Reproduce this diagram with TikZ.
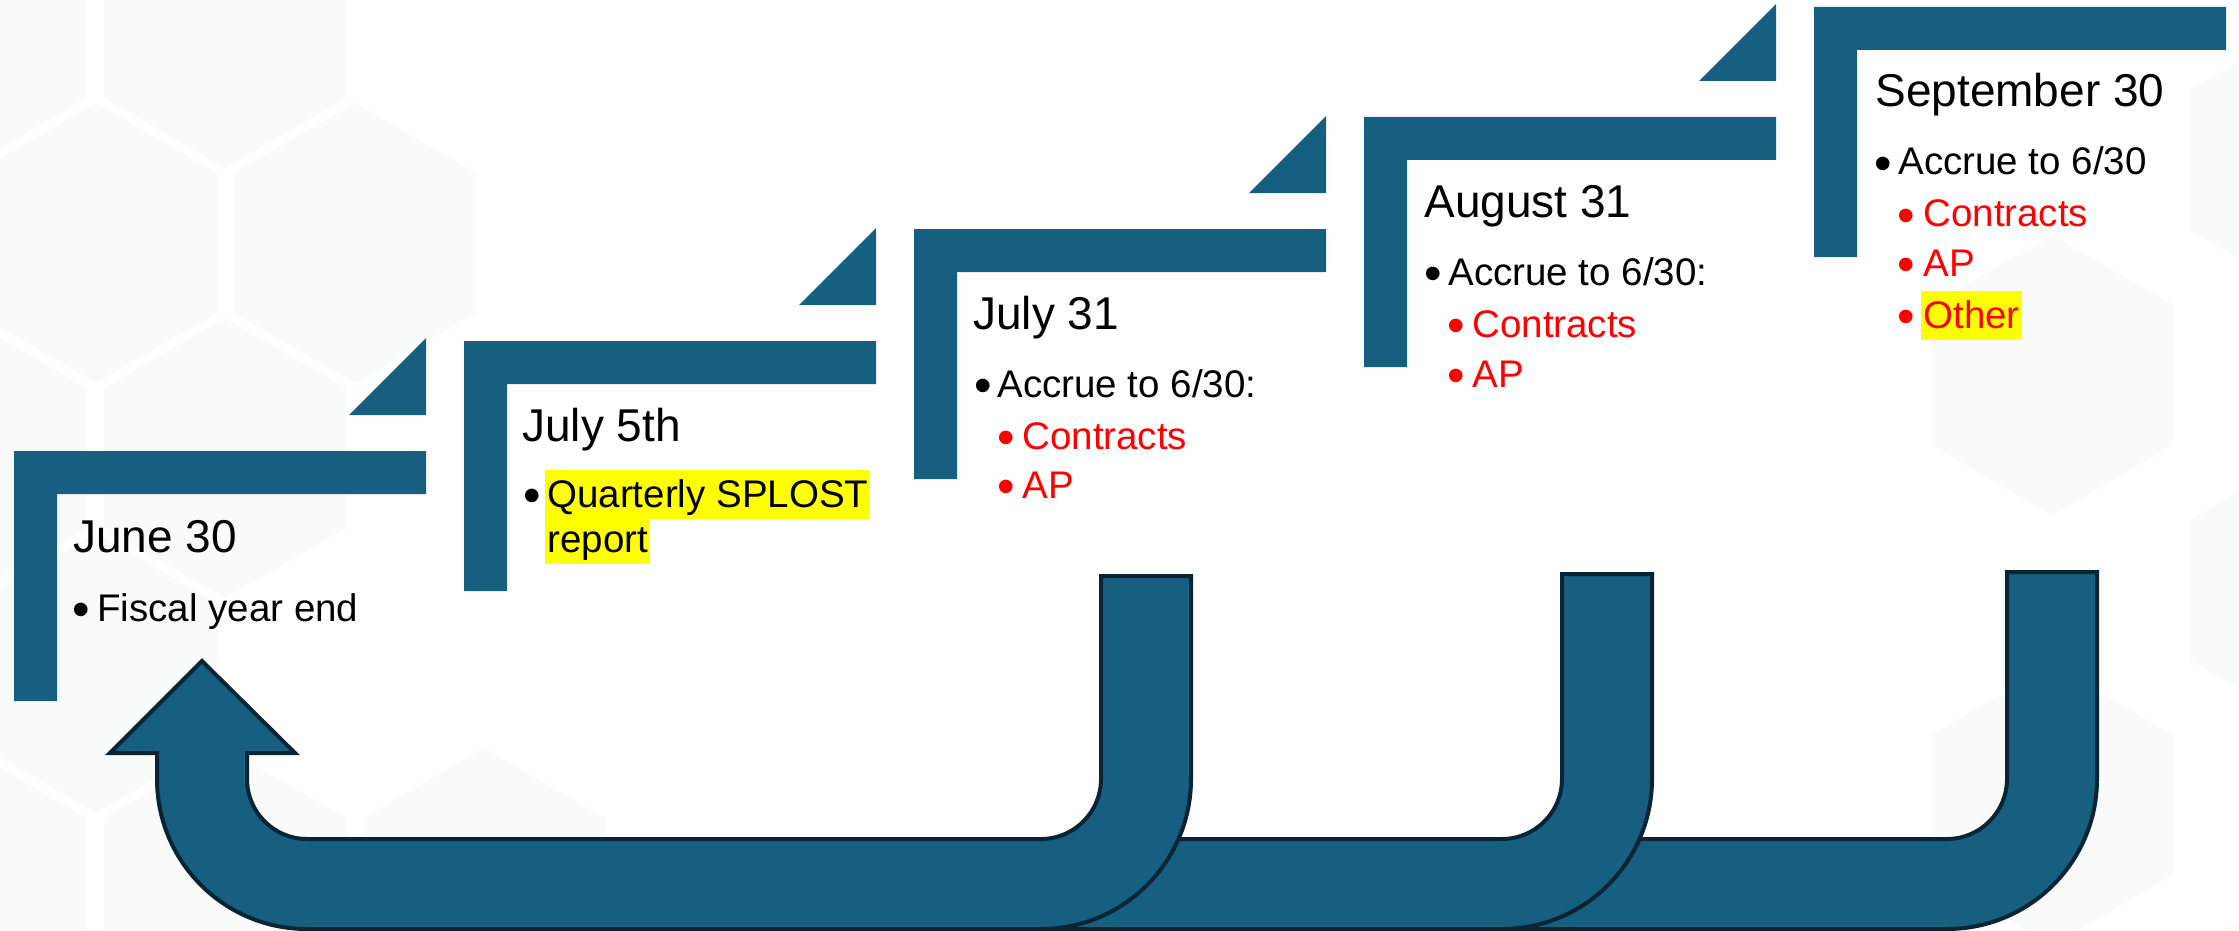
\documentclass[tikz,border=0pt]{standalone}
\usepackage{fontspec}
\setmainfont{Liberation Sans}
\definecolor{stepblue}{RGB}{23,95,128}
\definecolor{arrowline}{RGB}{9,36,52}
\definecolor{hexfill}{RGB}{249,250,250}
\definecolor{hiyellow}{RGB}{255,255,0}
\definecolor{txtred}{RGB}{255,0,0}
\newcommand\bigbullet{\smash{\raisebox{-2.5pt}{\fontsize{25}{25}\selectfont •}}}
\begin{document}
\begin{tikzpicture}[x=0.5pt,y=-0.5pt,
  title/.style={anchor=base west, inner sep=0pt, font=\fontsize{23}{27}\selectfont},
  item/.style={anchor=base west, inner sep=0pt, font=\fontsize{19.25}{23}\selectfont},
  subitem/.style={item, text=txtred},
  dot/.style={anchor=base west, inner sep=0pt, xshift=-1.5pt},
  hl/.style={fill=hiyellow, inner xsep=1pt, inner ysep=0pt, text height=18.5pt, text depth=6pt},
  uarrow/.style={fill=stepblue, draw=arrowline, line width=2pt, line join=miter},
  hexa/.style={fill=hexfill, draw=none}
]
\useasboundingbox (0,0) rectangle (2239,931);
\fill[white] (0,0) rectangle (2239,931);
% faint background hexagons
\foreach \cx/\cy in {-34/28, 225/28, 96/243, 355/243, -34/458, 225/458, 96/673, -34/888, 225/888, 484/888,
                     2052/375, 2311/160, 2311/590, 2052/805, 2311/1020}{
  \fill[hexa] (\cx,{\cy-140}) -- ({\cx+121},{\cy-70}) -- ({\cx+121},{\cy+70}) -- (\cx,{\cy+140})
     -- ({\cx-121},{\cy+70}) -- ({\cx-121},{\cy-70}) -- cycle;
}
% step brackets
\foreach \L/\T in {14/451, 464/341, 914/229, 1364/117, 1814/7}{
  \fill[stepblue] (\L,\T) -- ++(412,0) -- ++(0,43) -- ++(-369,0) -- ++(0,207) -- ++(-43,0) -- cycle;
}
% step triangles
\foreach \L/\T in {14/451, 464/341, 914/229, 1364/117}{
  \fill[stepblue] ({\L+412},{\T-113}) -- ({\L+412},{\T-36}) -- ({\L+335},{\T-36}) -- cycle;
}
% U-turn arrows (back to front)
\draw[uarrow] (1450,839) -- (1947,839) .. controls (1980.1,839) and (2007,812.1) .. (2007,779)
  -- (2007,572) -- (2097,572) -- (2097,779) .. controls (2097,861.8) and (2029.8,929) .. (1947,929)
  -- (1450,929) -- cycle;
\draw[uarrow] (1000,839) -- (1502,839) .. controls (1535.1,839) and (1562,812.1) .. (1562,779)
  -- (1562,574) -- (1652,574) -- (1652,779) .. controls (1652,861.8) and (1584.8,929) .. (1502,929)
  -- (1000,929) -- cycle;
\draw[uarrow] (202,661) -- (295,753) -- (247,753) -- (247,779)
  .. controls (247,812.1) and (273.9,839) .. (307,839) -- (1041,839)
  .. controls (1074.1,839) and (1101,812.1) .. (1101,779) -- (1101,576) -- (1191,576) -- (1191,779)
  .. controls (1191,861.8) and (1123.8,929) .. (1041,929) -- (307,929)
  .. controls (224.2,929) and (157,861.8) .. (157,779) -- (157,753) -- (110,753) -- cycle;
% step 1
\node[title] (t1) at (73,552) {June 30};
\node[dot] (b1) at (75,621) {\bigbullet};
\node[item] (i1) at (97,621) {Fiscal year end};
% step 2
\node[title] (t2) at (522,441) {July 5th};
\node[dot] (b2) at (526,507) {\bigbullet};
\node[item,hl,anchor=base west] (i2a) at (545,507) {Quarterly SPLOST};
\node[item,hl,anchor=base west] (i2b) at (545,552) {report};
% step 3
\node[title] (t3) at (973,329) {July 31};
\node[dot] (b3) at (977,397) {\bigbullet};
\node[item] (i3) at (997,397) {Accrue to 6/30:};
\node[dot,text=txtred] (d3a) at (1000,449) {\bigbullet};
\node[subitem] (s3a) at (1022,449) {Contracts};
\node[dot,text=txtred] (d3b) at (1000,498) {\bigbullet};
\node[subitem] (s3b) at (1022,498) {AP};
% step 4
\node[title] (t4) at (1424,217) {August 31};
\node[dot] (b4) at (1427,285) {\bigbullet};
\node[item] (i4) at (1448,285) {Accrue to 6/30:};
\node[dot,text=txtred] (d4a) at (1450,337) {\bigbullet};
\node[subitem] (s4a) at (1472,337) {Contracts};
\node[dot,text=txtred] (d4b) at (1450,387) {\bigbullet};
\node[subitem] (s4b) at (1472,387) {AP};
% step 5
\node[title] (t5) at (1875,107) {September 30};
\node[dot] (b5) at (1877,175) {\bigbullet};
\node[item] (i5) at (1898,175) {Accrue to 6/30};
\node[dot,text=txtred] (d5a) at (1900,227) {\bigbullet};
\node[subitem] (s5a) at (1923,227) {Contracts};
\node[dot,text=txtred] (d5b) at (1900,276) {\bigbullet};
\node[subitem] (s5b) at (1923,276) {AP};
\node[dot,text=txtred] (d5c) at (1900,328) {\bigbullet};
\node[subitem,hl,anchor=base west] (s5c) at (1921,328) {Other};
\end{tikzpicture}
\end{document}
